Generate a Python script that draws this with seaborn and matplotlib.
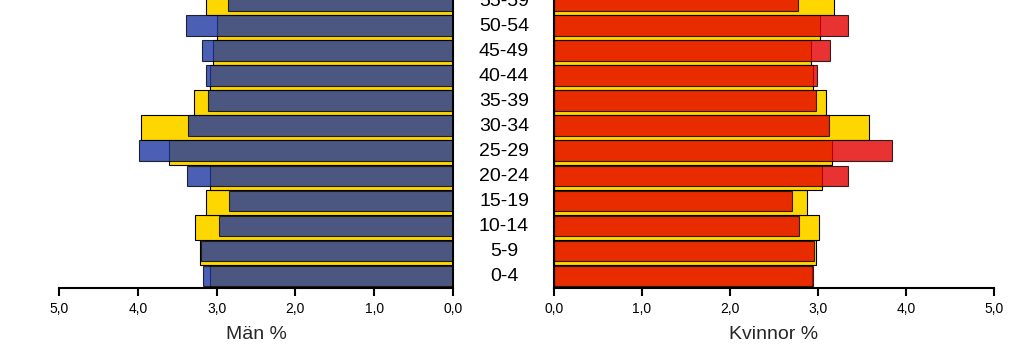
"""
Befolkningspyramid: Män / Kvinnor per åldersgrupp
"""
import pandas as pd
import matplotlib
matplotlib.use('Agg')
import matplotlib.pyplot as plt
import matplotlib.transforms as mtransforms
import seaborn as sns

# åldersgrupper, nerifrån och upp
ages = ['0-4', '5-9', '10-14', '15-19', '20-24', '25-29',
        '30-34', '35-39', '40-44', '45-49', '50-54', '55-59']

# jämförelse (gul) och eget område (blå / röd), procent
man_ref = [3.08, 3.21, 3.27, 3.14, 3.09, 3.61, 3.96, 3.29, 3.08, 3.05, 3.00, 3.14]
man = [3.17, 3.20, 2.97, 2.84, 3.38, 3.99, 3.36, 3.11, 3.13, 3.18, 3.39, 2.85]
kv_ref = [2.93, 2.98, 3.01, 2.88, 3.05, 3.16, 3.58, 3.09, 2.94, 2.92, 3.02, 3.18]
kv = [2.94, 2.95, 2.78, 2.71, 3.34, 3.84, 3.13, 2.98, 2.99, 3.14, 3.34, 2.77]

ticks = [0, 1, 2, 3, 4, 5]
tick_labels = ['0,0', '1,0', '2,0', '3,0', '4,0', '5,0']

sns.set_theme(style='white')
plt.rcParams['font.family'] = ['Liberation Sans', 'DejaVu Sans']

YELLOW = '#FFD700'
BLUE = '#1E37A1'
RED = '#E40000'

pos = list(range(len(ages)))
df = pd.DataFrame({
    'ref_pos': [p - 0.08 for p in pos],
    'pos': [p - 0.02 for p in pos],
    'man_ref': man_ref, 'man': man,
    'kv_ref': kv_ref, 'kv': kv,
})

fig = plt.figure(figsize=(10.24, 3.59), dpi=100)
ax1 = fig.add_axes([59 / 1024, 71 / 359, 394 / 1024, 288 / 359])
ax2 = fig.add_axes([554 / 1024, 71 / 359, 440 / 1024, 288 / 359])


def draw_side(ax, ref_col, col, color):
    sns.barplot(data=df, x=ref_col, y='ref_pos', orient='y', native_scale=True,
                color=YELLOW, saturation=1, width=1.0, errorbar=None,
                edgecolor='black', linewidth=0.8, ax=ax)
    sns.barplot(data=df, x=col, y='pos', orient='y', native_scale=True,
                color=color, saturation=1, width=0.8, errorbar=None, alpha=0.8,
                edgecolor='black', linewidth=0.8, ax=ax)
    ax.set_ylim(-0.52, 11.0)
    ax.set_yticks([])
    ax.set_ylabel('')
    ax.set_xticks(ticks)
    ax.set_xticklabels(tick_labels)
    ax.tick_params(axis='x', direction='out', length=6, width=1.5, pad=4,
                   labelsize=10, bottom=True, colors='black')
    for s in ax.spines.values():
        s.set_linewidth(1.5)
        s.set_color('black')


draw_side(ax1, 'man_ref', 'man', BLUE)
ax1.set_xlim(5, 0)
ax1.spines['top'].set_visible(False)
ax1.spines['left'].set_visible(False)
ax1.set_xlabel('Män %', fontsize=14, labelpad=7)

draw_side(ax2, 'kv_ref', 'kv', RED)
ax2.set_xlim(0, 5)
ax2.spines['top'].set_visible(False)
ax2.spines['right'].set_visible(False)
ax2.set_xlabel('Kvinnor %', fontsize=14, labelpad=7)

# åldersetiketter i mitten
trans = mtransforms.blended_transform_factory(ax2.transAxes, ax2.transData)
for p, a in zip(pos, ages):
    ax2.text(-50 / 440, p - 0.05, a, transform=trans, ha='center', va='center',
             fontsize=14, color='black', clip_on=False)

fig.savefig('out.png', dpi=100)
